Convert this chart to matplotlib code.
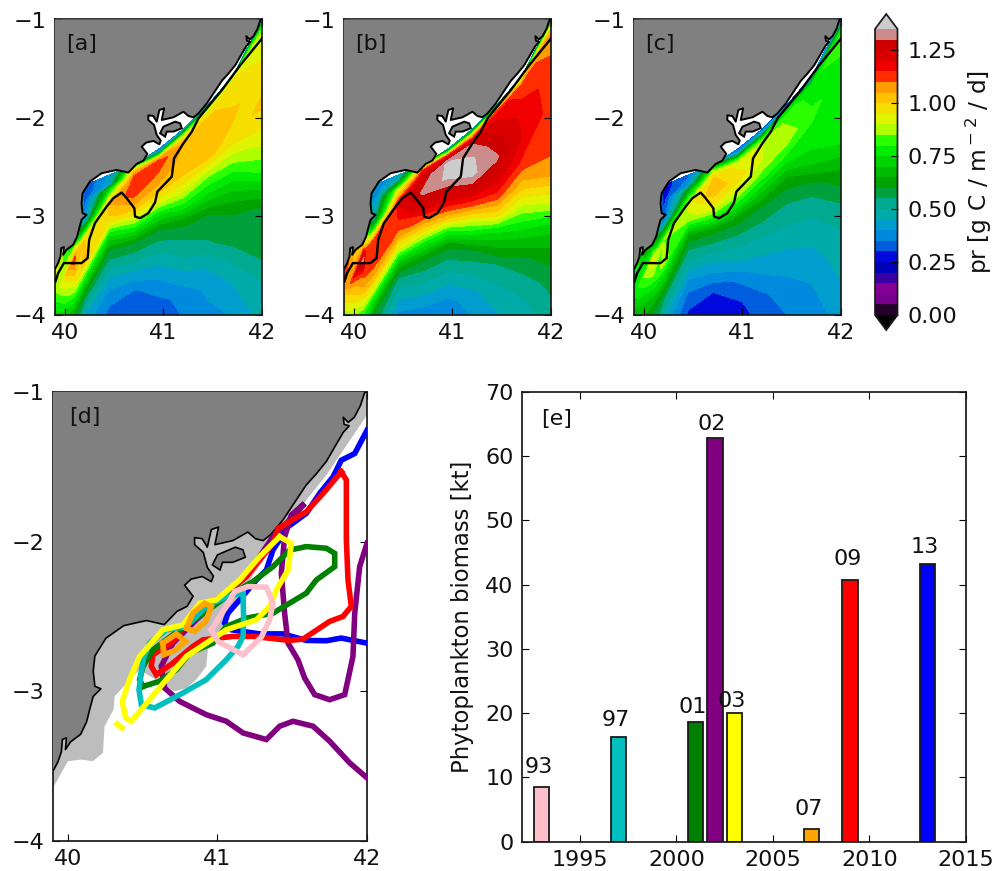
import numpy as np
import matplotlib
matplotlib.use("Agg")
import matplotlib.pyplot as plt
from matplotlib.patches import Polygon

# ---------- data ----------
transect_lon = [39.9, 40.1, 40.2, 40.45, 40.7, 40.95, 41.2, 41.45, 41.7, 42.0]
transect_top = [-3.524, -3.135, -2.686, -2.578, -2.476, -2.318, -2.115, -1.868, -1.581, -1.007]
transect_mid = [-4.284, -3.997, -3.845, -3.490, -3.270, -3.135, -3.051, -2.983, -2.932, -2.899]
near_rows = [0, .03, .06, .1, .15]
mid_fracs = [.2, .4, .6, .8, 1.0]
deep_rows = [.15, .3, .5, .75, 1.1, 1.6]

field_a = [
    [.93,.93,.92,.92,.90,.83,.76,.71,.68,.65,.62,.62,.62,.62,.62,.62],
    [.73,.73,.73,.73,.79,1.15,1.02,.90,.76,.62,.58,.55,.52,.50,.50,.50],
    [.30,.30,.30,.30,.31,.42,1.00,1.05,.76,.55,.45,.40,.38,.38,.38,.38],
    [.40,.42,.42,.45,.73,1.05,.98,.76,.60,.52,.44,.38,.33,.32,.32,.32],
    [.60,.85,1.00,1.09,1.13,1.13,1.05,.92,.76,.60,.52,.44,.34,.30,.29,.29],
    [.35,.45,.79,1.09,1.13,1.08,1.02,.90,.73,.60,.53,.47,.40,.33,.31,.31],
    [.38,.60,.85,.98,1.05,1.03,1.00,.91,.78,.62,.56,.52,.45,.37,.34,.34],
    [.40,.73,.90,.98,1.01,1.04,1.01,.85,.73,.60,.57,.54,.46,.41,.38,.37],
    [.45,.90,.97,.98,.98,1.01,.98,.85,.72,.61,.58,.57,.51,.45,.40,.40],
    [.45,.60,.73,.85,.90,.97,1.01,.93,.80,.60,.59,.58,.56,.50,.47,.46],
]
field_b = [
    [1.15,1.15,1.13,1.13,1.08,1.00,.92,.85,.80,.76,.73,.73,.73,.73,.73,.73],
    [.95,.95,.95,.95,1.00,1.33,1.13,1.05,.93,.79,.71,.67,.60,.60,.60,.60],
    [.35,.35,.35,.35,.36,.50,1.10,1.15,1.02,.76,.60,.55,.50,.50,.50,.50],
    [.42,.45,.50,.67,.90,1.20,1.15,1.08,.90,.67,.54,.47,.39,.37,.37,.37],
    [.79,1.00,1.15,1.22,1.27,1.31,1.25,1.12,.97,.79,.62,.54,.46,.36,.33,.33],
    [.40,.79,1.10,1.28,1.36,1.36,1.27,1.18,1.03,.81,.62,.55,.47,.38,.34,.34],
    [.40,.73,1.00,1.15,1.30,1.36,1.36,1.25,1.10,.90,.73,.59,.51,.43,.38,.38],
    [.45,.85,1.10,1.18,1.20,1.26,1.31,1.24,1.13,.97,.77,.67,.55,.49,.43,.42],
    [.50,.90,1.07,1.12,1.13,1.19,1.20,1.14,1.02,.87,.78,.69,.59,.52,.47,.45],
    [.50,.73,.90,1.03,1.07,1.12,1.13,1.13,1.07,.88,.76,.69,.62,.57,.52,.50],
]
field_c = [
    [.79,.79,.79,.79,.79,.76,.71,.65,.62,.60,.58,.58,.58,.58,.58,.58],
    [.60,.60,.60,.60,.67,.95,.87,.76,.67,.58,.55,.52,.50,.50,.50,.50],
    [.27,.27,.27,.27,.27,.33,.85,.90,.71,.55,.47,.42,.38,.36,.35,.35],
    [.35,.35,.37,.40,.60,.93,.87,.65,.55,.48,.40,.34,.29,.27,.27,.27],
    [.50,.71,.85,.95,1.01,1.03,.95,.80,.62,.55,.47,.40,.30,.27,.25,.25],
    [.33,.40,.55,.79,.93,.98,.91,.79,.64,.57,.51,.46,.36,.29,.27,.27],
    [.33,.45,.60,.81,.90,.90,.83,.71,.60,.55,.50,.46,.41,.34,.30,.30],
    [.33,.50,.73,.81,.84,.88,.78,.65,.57,.52,.49,.46,.42,.38,.34,.33],
    [.35,.45,.71,.78,.78,.81,.78,.71,.58,.51,.49,.46,.43,.40,.37,.36],
    [.40,.50,.60,.76,.83,.78,.77,.77,.64,.54,.51,.49,.47,.45,.42,.41],
]

coast_lon = [39.905,39.932,39.956,39.963,39.99,39.983,40.017,40.085,40.125,40.146,40.169,40.22,40.18,40.169,40.18,40.254,
             40.373,40.525,40.644,40.729,40.797,40.837,40.78,40.824,40.898,40.959,40.973,40.932,40.905,40.847,40.847,40.898,
             40.932,40.959,41.007,40.983,41.102,41.203,41.254,41.305,41.356,41.441,41.508,41.593,41.661,41.729,41.797,41.841,
             41.881,41.847,41.841,41.875,41.915,41.956,41.983,41.99]
coast_lat = [-3.524,-3.473,-3.405,-3.321,-3.311,-3.389,-3.338,-3.287,-3.203,-3.118,-3.034,-2.983,-2.966,-2.865,-2.764,-2.645,
             -2.561,-2.527,-2.554,-2.466,-2.432,-2.365,-2.291,-2.25,-2.233,-2.267,-2.23,-2.172,-2.071,-2.02,-1.973,-1.98,
             -2.037,-1.919,-1.902,-2.02,-1.993,-1.936,-1.98,-1.993,-1.953,-1.851,-1.75,-1.622,-1.547,-1.463,-1.345,-1.27,
             -1.226,-1.216,-1.169,-1.203,-1.169,-1.091,-1.007,-1.0]
island_lon = [40.966,41.0,41.119,41.17,41.186,41.102,41.034,41.017]
island_lat = [-2.155,-2.088,-2.037,-2.054,-2.104,-2.138,-2.138,-2.189]
box_lon = [39.905,39.932,39.99,40.169,40.231,40.247,40.305,40.424,40.492,40.576,40.627,40.705,40.712,40.763,40.847,40.915,
           40.939,41.085,41.108,41.203,41.288,41.356,41.593,41.78,42.0]
box_lat = [-3.659,-3.574,-3.473,-3.473,-3.422,-3.236,-3.068,-2.899,-2.814,-2.757,-2.814,-2.916,-3.0,-3.017,-2.966,-2.858,
           -2.747,-2.595,-2.409,-2.257,-2.139,-2.003,-1.716,-1.463,-1.193]
shelf_lon = [39.9,40.0,40.089,40.167,40.234,40.245,40.305,40.312,40.479,40.713,40.792,40.858,40.925,40.936,41.014,41.171,41.371,41.594,41.728,41.984,42.0,42.0,39.9]
shelf_lat = [-3.644,-3.467,-3.456,-3.467,-3.411,-3.233,-3.122,-3.033,-2.856,-3.0,-2.978,-2.922,-2.833,-2.722,-2.611,-2.322,-2.033,-1.722,-1.556,-1.178,-1.144,-1.0,-1.0]

blue_lon = [42,41.918,41.828,41.773,41.683,41.594,41.472,41.371,41.327,41.26,41.148,41.07,41.048,41.093,41.282,41.438,41.594,41.728,41.828,42]
blue_lat = [-1.256,-1.411,-1.456,-1.567,-1.678,-1.811,-1.9,-2.056,-2.189,-2.256,-2.389,-2.478,-2.544,-2.589,-2.616,-2.616,-2.66,-2.662,-2.644,-2.678]
purple_lon = [42,41.951,41.918,41.906,41.851,41.75,41.65,41.583,41.538,41.472,41.449,41.427,41.449,41.494,41.583,41.505,41.371,41.193,40.992,40.858,40.702,40.624,40.647,40.747,40.925,41.059,41.171,41.327,41.416,41.505,41.639,41.75,41.884,42]
purple_lat = [-2.011,-2.167,-2.478,-2.767,-3.022,-3.056,-3.022,-2.911,-2.789,-2.678,-2.478,-2.211,-1.967,-1.822,-1.744,-1.833,-1.967,-2.233,-2.4,-2.522,-2.678,-2.833,-2.978,-3.067,-3.156,-3.2,-3.278,-3.322,-3.233,-3.2,-3.233,-3.333,-3.478,-3.578]
red_lon = [41.828,41.862,41.862,41.873,41.895,41.839,41.75,41.572,41.483,41.237,41.104,40.903,40.836,40.702,40.591,40.557,40.569,40.702,40.814,40.992,41.193,41.371,41.405,41.594,41.706,41.828]
red_lat = [-1.533,-1.589,-1.989,-2.256,-2.433,-2.5,-2.533,-2.651,-2.66,-2.633,-2.633,-2.656,-2.7,-2.811,-2.889,-2.833,-2.756,-2.667,-2.522,-2.389,-2.233,-2.011,-1.911,-1.8,-1.678,-1.533]
green_lon = [40.502,40.613,40.725,40.814,40.97,41.059,41.193,41.371,41.594,41.661,41.784,41.784,41.728,41.594,41.483,41.371,41.237,41.059,40.97,40.747,40.569,40.502,40.479,40.502]
green_lat = [-2.967,-2.933,-2.856,-2.744,-2.678,-2.567,-2.511,-2.478,-2.344,-2.256,-2.167,-2.078,-2.044,-2.033,-2.056,-2.167,-2.267,-2.367,-2.433,-2.589,-2.722,-2.833,-2.922,-2.967]
cyan_lon = [41.171,41.175,41.171,41.137,41.059,40.925,40.769,40.58,40.491,40.475,40.502,40.546,40.658,40.792,40.925,41.059,41.171]
cyan_lat = [-2.344,-2.522,-2.633,-2.7,-2.789,-2.922,-3.011,-3.111,-3.089,-2.989,-2.789,-2.678,-2.589,-2.567,-2.433,-2.367,-2.344]
yellow_lon = [41.416,41.494,41.472,41.394,41.349,41.26,41.059,40.925,40.792,40.658,40.546,40.424,40.386,40.363,40.412,40.479,40.635,40.769,40.881,40.992,41.148,41.282,41.416]
yellow_lat = [-1.967,-2.011,-2.189,-2.322,-2.433,-2.522,-2.589,-2.678,-2.767,-2.922,-3.056,-3.2,-3.178,-3.067,-2.922,-2.767,-2.589,-2.556,-2.411,-2.389,-2.256,-2.1,-1.967]
yellow2_lon = [40.33,40.361]
yellow2_lat = [-3.218,-3.244]
orange1_lon = [40.635,40.725,40.787,40.713,40.64,40.635]
orange1_lat = [-2.678,-2.616,-2.667,-2.727,-2.756,-2.678]
orange2_lon = [40.792,40.836,40.914,40.959,40.921,40.847,40.792]
orange2_lat = [-2.578,-2.478,-2.411,-2.433,-2.533,-2.6,-2.578]
pink_lon = [40.959,41.059,41.115,41.204,41.327,41.371,41.349,41.293,41.171,41.003,40.959]
pink_lat = [-2.589,-2.433,-2.333,-2.3,-2.304,-2.411,-2.522,-2.638,-2.756,-2.667,-2.589]

bar_years = [1993, 1997, 2001, 2002, 2003, 2007, 2009, 2013]
bar_values = [8.5, 16.2, 18.6, 62.8, 20.0, 1.9, 40.8, 43.2]
bar_labels = ['93', '97', '01', '02', '03', '07', '09', '13']
bar_colors = ['pink', 'c', 'g', 'purple', 'yellow', 'orange', 'red', 'blue']
label_gap = [2.2, 1.8, 1.4, 1.3, 1.0, 2.3, 2.2, 1.8]

# ---------- style ----------
W, H = 1006, 871
FS = 16
plt.rcParams.update({
    'font.family': 'DejaVu Sans', 'font.size': FS,
    'axes.linewidth': 1.25, 'axes.edgecolor': '#1a1a1a',
    'xtick.direction': 'in', 'ytick.direction': 'in',
    'xtick.top': True, 'ytick.right': True,
    'xtick.major.size': 5, 'ytick.major.size': 5,
    'xtick.major.width': 0.8, 'ytick.major.width': 0.8,
    'xtick.major.pad': 6, 'ytick.major.pad': 6,
    'text.color': '#111111', 'xtick.labelcolor': '#111111', 'ytick.labelcolor': '#111111',
    'axes.labelcolor': '#111111',
})
fig = plt.figure(figsize=(W/100, H/100), dpi=100, facecolor='white')

def box(x0, y0, x1, y1):
    return fig.add_axes([x0/W, 1-y1/H, (x1-x0)/W, (y1-y0)/H])

def map_axes(ax, tag, tag_lat):
    ax.set_xlim(39.9, 42)
    ax.set_ylim(-4, -1)
    ax.set_xticks([40, 41, 42])
    ax.set_yticks([-4, -3, -2, -1])
    ax.set_yticklabels(['\u22124', '\u22123', '\u22122', '\u22121'])
    ax.text(40.01, tag_lat, tag, fontsize=FS, va='baseline', ha='left', zorder=10)

def land(ax, lw):
    px = list(coast_lon) + [39.9, 39.9]
    py = list(coast_lat) + [-1.0, coast_lat[0]]
    ax.add_patch(Polygon(np.c_[px, py], closed=True, facecolor='#808080', edgecolor='none', zorder=4))
    ax.plot(coast_lon, coast_lat, color='k', lw=lw, zorder=5)
    ax.add_patch(Polygon(np.c_[island_lon, island_lat], closed=True, facecolor='#808080', edgecolor='k', lw=lw, zorder=5))

levels = np.arange(0, 1.351, 0.05)
top = np.array(transect_top)
mid = np.array(transect_mid)
rows_near = top[:, None] - np.array(near_rows)[None, :]
start = top - near_rows[-1]
rows_mid = start[:, None] + (mid - start)[:, None] * np.array(mid_fracs)[None, :]
rows_deep = mid[:, None] - np.array(deep_rows)[None, :]
Y = np.hstack([rows_near, rows_mid, rows_deep])
X = np.repeat(np.array(transect_lon)[:, None], Y.shape[1], axis=1)

cf = None
for (x0, x1), tag, fld in zip([(55, 262), (344, 551), (634, 841)], ['[a]', '[b]', '[c]'], [field_a, field_b, field_c]):
    ax = box(x0, 19.5, x1, 315)
    cf = ax.contourf(X, Y, np.array(fld), levels=levels, cmap='nipy_spectral', extend='both', antialiased=False, zorder=1)
    land(ax, 1.4)
    ax.plot(box_lon, box_lat, color='k', lw=1.7, zorder=6)
    map_axes(ax, tag, -1.31)

cax = box(875, 14, 897.5, 330)
cb = fig.colorbar(cf, cax=cax, extend='both', extendfrac=15/286, drawedges=False)
cb.set_ticks([0, .25, .5, .75, 1.0, 1.25])
cb.set_ticklabels(['0.00', '0.25', '0.50', '0.75', '1.00', '1.25'])
cb.ax.tick_params(direction='in', length=5, width=0.8, pad=7, right=True, left=False)
cb.set_label('pr [g C / m$^-$$^2$ / d]', labelpad=5, fontsize=16.8)
cb.outline.set_linewidth(1.25)

# panel d
ax = box(53, 392, 367, 841)
ax.add_patch(Polygon(np.c_[shelf_lon, shelf_lat], closed=True, facecolor='#bdbdbd', edgecolor='none', zorder=1))
land(ax, 1.2)
LW = 4.0
for lons, lats, c in [(blue_lon, blue_lat, 'blue'), (purple_lon, purple_lat, 'purple'), (red_lon, red_lat, 'red'),
                      (green_lon, green_lat, 'g'), (cyan_lon, cyan_lat, 'c'), (yellow_lon, yellow_lat, 'yellow'),
                      (yellow2_lon, yellow2_lat, 'yellow'), (orange1_lon, orange1_lat, 'orange'),
                      (orange2_lon, orange2_lat, 'orange'), (pink_lon, pink_lat, 'pink')]:
    ax.plot(lons, lats, color=c, lw=LW, solid_joinstyle='miter', zorder=6)
map_axes(ax, '[d]', -1.21)

# panel e
ax = box(522, 392, 966, 841.5)
ax.bar(bar_years, bar_values, width=0.8, color=bar_colors, edgecolor='#1a1a1a', linewidth=1.3)
for yr, v, s, g in zip(bar_years, bar_values, bar_labels, label_gap):
    ax.text(yr - 0.15, v + g, s, ha='center', va='baseline', fontsize=FS)
ax.set_xlim(1992, 2015)
ax.set_ylim(0, 70)
ax.set_xticks([1995, 2000, 2005, 2010, 2015])
ax.set_yticks(range(0, 71, 10))
ax.set_ylabel('Phytoplankton biomass [kt]', labelpad=8, fontsize=16.4)
ax.text(1993, 64.9, '[e]', fontsize=FS, va='baseline', ha='left')

fig.savefig('out.png', dpi=100)
